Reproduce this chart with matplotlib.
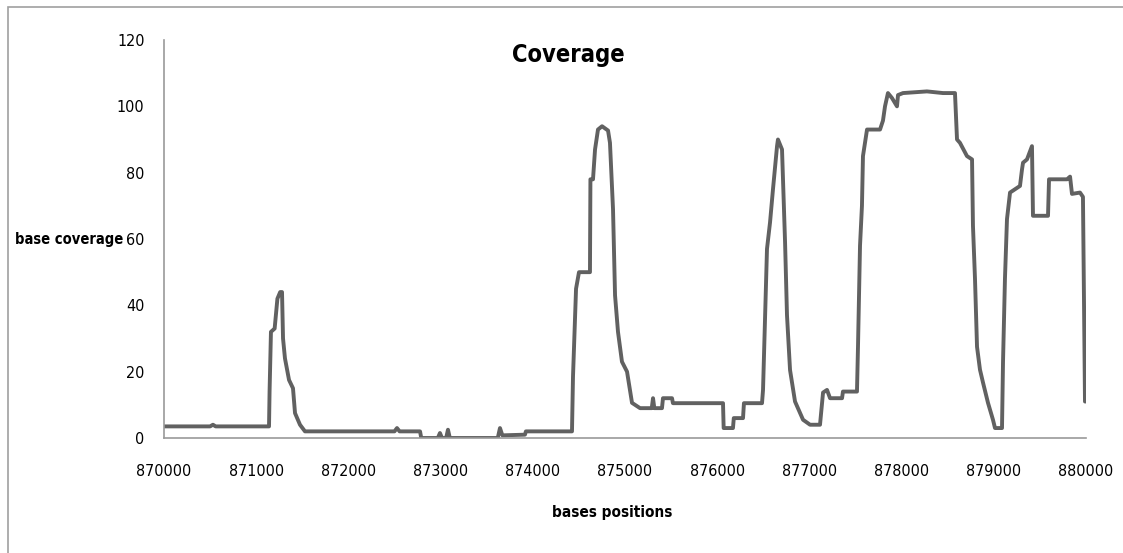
import matplotlib
matplotlib.use("Agg")
import matplotlib.pyplot as plt
from matplotlib.patches import Rectangle

# positions (bp) and coverage
positions = [
    870000, 870500, 870531, 870560, 871139, 871145, 871160, 871200, 871230, 871260,
    871280, 871291, 871312, 871356, 871399, 871421, 871475, 871529, 872500, 872527,
    872555, 872777, 872790, 872970, 872993, 873015, 873060, 873080, 873100, 873620,
    873644, 873670, 873915, 873925, 874425, 874436, 874469, 874501, 874620, 874625,
    874653, 874675, 874707, 874751, 874816, 874837, 874870, 874892, 874924, 874967,
    875022, 875076, 875163, 875290, 875304, 875318, 875401, 875412, 875510, 875520,
    876063, 876070, 876171, 876180, 876280, 876290, 876486, 876497, 876540, 876573,
    876605, 876649, 876659, 876703, 876736, 876757, 876790, 876844, 876931, 877007,
    877115, 877148, 877191, 877224, 877354, 877364, 877516, 877527, 877549, 877570,
    877581, 877625, 877766, 877798, 877820, 877852, 877896, 877950, 877961, 878015,
    878275, 878449, 878579, 878601, 878633, 878709, 878764, 878774, 878796, 878818,
    878850, 878883, 878937, 878991, 879013, 879089, 879100, 879121, 879143, 879176,
    879284, 879306, 879317, 879360, 879414, 879425, 879588, 879599, 879794, 879827,
    879848, 879935, 879967, 879989, 880010,
]
coverage = [
    3.5, 3.5, 4.0, 3.5, 3.5, 14, 32, 33, 42, 44,
    44, 30, 24, 17.5, 15, 7.5, 4, 2, 2, 3,
    2, 2, 0, 0, 1.5, 0, 0, 2.5, 0, 0,
    3, 0.8, 1, 2, 2, 18.5, 45, 50, 50, 78,
    78, 87, 93, 94, 92.7, 89, 69, 43, 32, 23,
    20, 10.6, 9, 9, 12, 9, 9, 12, 12, 10.5,
    10.5, 3, 3, 6, 6, 10.5, 10.5, 14.5, 57, 65,
    75, 88, 90, 87, 59, 37, 20.5, 11, 5.5, 4,
    4, 13.7, 14.5, 12, 12, 14, 14, 27.5, 58, 70,
    85, 93, 93, 95.7, 100, 104, 102.5, 100, 103.4, 104,
    104.5, 104, 104, 90, 89, 85, 84, 64, 48, 27.5,
    20.6, 16.7, 10.6, 5.5, 3, 3, 23, 48, 66, 74,
    76, 81, 83, 84, 88, 67, 67, 78, 78, 78.8,
    73.6, 74, 72.7, 11, 11,
]

x_ticks = [870000 + 1000 * i for i in range(11)]
y_ticks = [0, 20, 40, 60, 80, 100, 120]

plt.rcParams['font.family'] = ['DejaVu Sans']
plt.rcParams['font.stretch'] = 'condensed'

fig = plt.figure(figsize=(11.23, 5.53), dpi=100)
# outer frame of the chart area (top and left edge visible)
fig.patches.append(Rectangle((8 / 1123, -0.1), 1.2, 1 - 7 / 553 + 0.1,
                             transform=fig.transFigure, fill=False,
                             edgecolor='#a0a0a0', linewidth=1.2))

ax = fig.add_axes([164 / 1123, 1 - 438 / 553, (1086 - 164) / 1123, (438 - 40) / 553])
ax.plot(positions, coverage, color='#616161', linewidth=2.8,
        solid_joinstyle='round', solid_capstyle='round')

ax.set_xlim(870000, 880000)
ax.set_ylim(0, 120)
ax.set_xticks(x_ticks)
ax.set_xticklabels([str(t) for t in x_ticks])
ax.set_yticks(y_ticks)
ax.tick_params(axis='both', length=0, labelsize=11.5)
ax.tick_params(axis='x', pad=19)
ax.tick_params(axis='y', pad=14)

for s in ['top', 'right']:
    ax.spines[s].set_visible(False)
for s in ['left', 'bottom']:
    ax.spines[s].set_color('#9a9a9a')
    ax.spines[s].set_linewidth(1.2)

fig.text(568 / 1123, 1 - 55 / 553, 'Coverage', ha='center', va='center',
         fontsize=17, fontweight='bold')
fig.text(15 / 1123, 1 - 240 / 553, 'base coverage', ha='left', va='center',
         fontsize=10.5, fontweight='bold')
fig.text(612 / 1123, 1 - 512 / 553, 'bases positions', ha='center', va='center',
         fontsize=11, fontweight='bold')

fig.savefig('out.png', dpi=100)
